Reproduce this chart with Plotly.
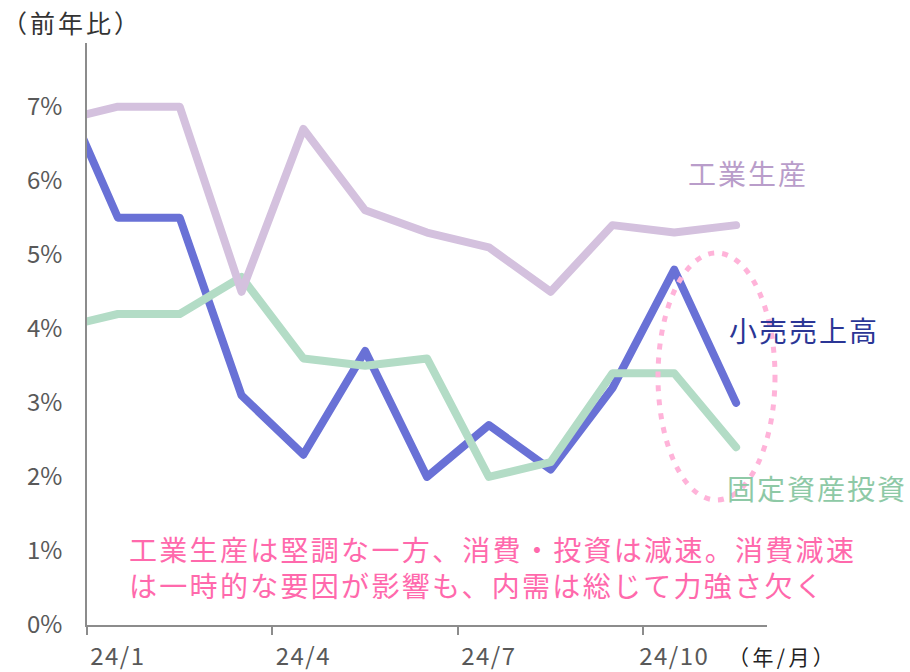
import plotly.graph_objects as go

# month index: 0 = 2023/12 (off-axis, gives the clipped lead-in), 1 = 24/1 ... 11 = 24/11
months = list(range(0, 12))
industrial = [6.8, 7.0, 7.0, 4.5, 6.7, 5.6, 5.3, 5.1, 4.5, 5.4, 5.3, 5.4]
retail = [7.4, 5.5, 5.5, 3.1, 2.3, 3.7, 2.0, 2.7, 2.1, 3.2, 4.8, 3.0]
fai = [4.0, 4.2, 4.2, 4.7, 3.6, 3.5, 3.6, 2.0, 2.2, 3.4, 3.4, 2.4]

x_tickvals = [1, 4, 7, 10]
x_ticktext = ["24/1", "24/4", "24/7", "24/10"]
y_tickvals = [0, 1, 2, 3, 4, 5, 6, 7]
y_ticktext = ["0%", "1%", "2%", "3%", "4%", "5%", "6%", "7%"]

FONT = "Noto Sans CJK JP"
W, H = 910, 672
L, R, T, B = 87, 143, 43, 47
PW, PH = W - L - R, H - T - B


def px(x):
    return (x - L) / PW


def py(y):
    return (H - B - y) / PH


fig = go.Figure()
fig.add_trace(go.Scatter(x=months, y=retail, mode="lines", name="小売売上高",
                         line=dict(color="#6971d6", width=8)))
fig.add_trace(go.Scatter(x=months, y=fai, mode="lines", name="固定資産投資",
                         line=dict(color="#b3dcc6", width=8)))
fig.add_trace(go.Scatter(x=months, y=industrial, mode="lines", name="工業生産",
                         line=dict(color="#d4c1de", width=8)))

annotations = [
    dict(text="（前年比）", x=px(0), y=py(22), font=dict(size=25, color="#333333")),
    dict(text="（年/月）", x=px(726), y=py(656), font=dict(size=21, color="#222222")),
    dict(text="工業生産", x=px(686), y=py(173), font=dict(size=28, color="#b99dca")),
    dict(text="小売売上高", x=px(727), y=py(330), font=dict(size=28, color="#2b3695")),
    dict(text="固定資産投資", x=px(725), y=py(488), font=dict(size=28, color="#8ec9a6")),
    dict(text="工業生産は堅調な一方、消費・投資は減速。消費減速<br>"
              "は一時的な要因が影響も、内需は総じて力強さ欠く",
         x=px(127), y=py(567), font=dict(size=28, color="#ff69ac")),
]
for a in annotations:
    a.update(xref="paper", yref="paper", showarrow=False, xanchor="left",
             yanchor="middle", align="left")

fig.update_layout(
    width=W, height=H,
    margin=dict(l=L, r=R, t=T, b=B, autoexpand=False),
    paper_bgcolor="white", plot_bgcolor="white",
    showlegend=False,
    font=dict(family=FONT),
    annotations=annotations,
    shapes=[dict(type="circle", xref="paper", yref="paper",
                 x0=px(658), x1=px(775), y0=py(500), y1=py(253),
                 line=dict(color="#ffb3d9", width=5, dash="6px,8px"),
                 layer="above")],
    xaxis=dict(range=[0.5, 11.5], tickvals=x_tickvals, ticktext=x_ticktext,
               showgrid=False, zeroline=False, showline=True, linecolor="#8c8c8c",
               linewidth=1.5, ticks="", ticklabelstandoff=9, automargin=False,
               tickfont=dict(size=24, color="#595959", family=FONT),
               minor=dict(tick0=0.5, dtick=3, ticks="outside", ticklen=8,
                          tickcolor="#8c8c8c", tickwidth=1.5, showgrid=False)),
    yaxis=dict(range=[0, 7.86], tickvals=y_tickvals, ticktext=y_ticktext,
               showgrid=False, zeroline=False, showline=True, linecolor="#8c8c8c",
               linewidth=1.5, ticks="", ticklabelstandoff=18, automargin=False,
               tickfont=dict(size=24, color="#595959", family=FONT)),
)

post = (
    "document.body.style.margin='0';"
    "document.querySelectorAll('.scatterlayer .js-line').forEach(function(p){"
    "p.style.strokeLinejoin='round';p.style.strokeLinecap='round';});"
    "var ls=[3,3.4,2,2,2,2.3];"
    "document.querySelectorAll('g.annotation text.annotation-text').forEach(function(t,i){"
    "t.style.letterSpacing=(ls[i]||0)+'px';});"
    "document.querySelectorAll('.xtick text').forEach(function(t){"
    "t.style.letterSpacing='1.5px';});"
)
fig.write_html("out.html", post_script=post, config={"displayModeBar": False})
